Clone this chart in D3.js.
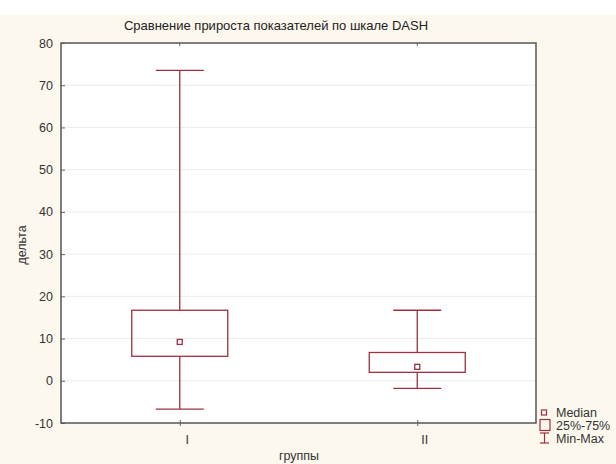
<!DOCTYPE html>
<html>
<head>
<meta charset="utf-8">
<script src="https://cdn.jsdelivr.net/npm/d3@7"></script>
<style>
  body { margin: 0; background: #fcf8ee; }
  svg { display: block; font-family: "Liberation Sans", Arial, sans-serif; }
</style>
</head>
<body>
<svg id="chart"></svg>
<script>
// Data
const groups = ["I", "II"];
const mins = [-6.7, -1.8];
const q1 = [5.8, 2.0];
const medians = [9.2, 3.3];
const q3 = [16.7, 6.7];
const maxs = [73.5, 16.7];
const yTicks = [-10, 0, 10, 20, 30, 40, 50, 60, 70, 80];

const width = 616, height = 464;
const margin = {top: 43, bottom: 41, left: 61, right: 80};
const color = "#9e3140";

const svg = d3.select("#chart")
  .attr("width", width)
  .attr("height", height);

// white strip at the very top
svg.append("rect")
  .attr("x", 0).attr("y", 0)
  .attr("width", width).attr("height", 15)
  .attr("fill", "#ffffff");

const xScale = d3.scalePoint()
  .domain(groups)
  .range([margin.left, width - margin.right])
  .padding(0.5);

const yScale = d3.scaleLinear()
  .domain([-10, 80])
  .range([height - margin.bottom, margin.top]);

// Plot area
svg.append("rect")
  .attr("x", margin.left).attr("y", margin.top)
  .attr("width", width - margin.left - margin.right)
  .attr("height", height - margin.top - margin.bottom)
  .attr("fill", "#ffffff");

// Gridlines
svg.append("g")
  .selectAll("line")
  .data(yTicks.slice(1, -1))
  .enter()
  .append("line")
  .attr("x1", margin.left).attr("x2", width - margin.right)
  .attr("y1", (d) => yScale(d)).attr("y2", (d) => yScale(d))
  .attr("stroke", "#ececec");

// Y axis
const yAxis = svg.append("g")
  .attr("transform", `translate(${margin.left},0)`)
  .call(d3.axisLeft(yScale).tickValues(yTicks).tickFormat((d) => String(d)).tickSize(-4).tickPadding(8));
yAxis.select(".domain").remove();
yAxis.selectAll(".tick line").attr("stroke", "#666");
yAxis.selectAll("text").attr("font-size", 12.5).attr("fill", "#333").attr("font-family", "Liberation Sans, Arial, sans-serif");

// X axis
const xAxis = svg.append("g")
  .attr("transform", `translate(0,${height - margin.bottom})`)
  .call(d3.axisBottom(xScale).tickSize(3).tickPadding(9));
xAxis.select(".domain").remove();
xAxis.selectAll(".tick line").attr("y1", -3).attr("stroke", "#666");
xAxis.selectAll("text").attr("font-size", 12.5).attr("fill", "#333").attr("dx", 7).attr("font-family", "Liberation Sans, Arial, sans-serif");

// top ticks
svg.append("g")
  .selectAll("line")
  .data(groups)
  .enter()
  .append("line")
  .attr("x1", (d) => xScale(d)).attr("x2", (d) => xScale(d))
  .attr("y1", margin.top).attr("y2", margin.top + 3)
  .attr("stroke", "#666");

// Frame
svg.append("rect")
  .attr("x", margin.left).attr("y", margin.top)
  .attr("width", width - margin.left - margin.right)
  .attr("height", height - margin.top - margin.bottom)
  .attr("fill", "none")
  .attr("stroke", "#555")
  .attr("stroke-width", 1.5);

// Boxes
const capW = 24, boxW = 48;
const box = svg.append("g")
  .selectAll("g")
  .data(groups)
  .enter()
  .append("g")
  .attr("stroke", color)
  .attr("stroke-width", 1.3)
  .attr("fill", "none");

box.append("line")
  .attr("x1", (d) => xScale(d)).attr("x2", (d) => xScale(d))
  .attr("y1", (d, i) => yScale(maxs[i])).attr("y2", (d, i) => yScale(q3[i]));
box.append("line")
  .attr("x1", (d) => xScale(d)).attr("x2", (d) => xScale(d))
  .attr("y1", (d, i) => yScale(q1[i])).attr("y2", (d, i) => yScale(mins[i]));
box.append("line")
  .attr("x1", (d) => xScale(d) - capW).attr("x2", (d) => xScale(d) + capW)
  .attr("y1", (d, i) => yScale(maxs[i])).attr("y2", (d, i) => yScale(maxs[i]));
box.append("line")
  .attr("x1", (d) => xScale(d) - capW).attr("x2", (d) => xScale(d) + capW)
  .attr("y1", (d, i) => yScale(mins[i])).attr("y2", (d, i) => yScale(mins[i]));
box.append("rect")
  .attr("x", (d) => xScale(d) - boxW)
  .attr("y", (d, i) => yScale(q3[i]))
  .attr("width", boxW * 2)
  .attr("height", (d, i) => yScale(q1[i]) - yScale(q3[i]));
box.append("rect")
  .attr("x", (d) => xScale(d) - 2.5)
  .attr("y", (d, i) => yScale(medians[i]) - 2.5)
  .attr("width", 5).attr("height", 5);

// Title and axis labels
svg.append("text")
  .attr("x", 276).attr("y", 30)
  .attr("text-anchor", "middle")
  .attr("font-size", 13)
  .attr("fill", "#222")
  .text("Сравнение прироста показателей по шкале DASH");

svg.append("text")
  .attr("transform", "translate(26,245) rotate(-90)")
  .attr("text-anchor", "middle")
  .attr("font-size", 12.5)
  .attr("fill", "#333")
  .text("дельта");

svg.append("text")
  .attr("x", 299).attr("y", 460)
  .attr("text-anchor", "middle")
  .attr("font-size", 12.5)
  .attr("fill", "#333")
  .text("группы");

// Legend
const legend = svg.append("g").attr("font-size", 12.5).attr("fill", "#333");
legend.append("rect").attr("x", 541.5).attr("y", 410).attr("width", 5).attr("height", 5)
  .attr("fill", "none").attr("stroke", color).attr("stroke-width", 1.2);
legend.append("text").attr("x", 556).attr("y", 417).text("Median");
legend.append("rect").attr("x", 540).attr("y", 419.5).attr("width", 10).attr("height", 11)
  .attr("fill", "none").attr("stroke", color).attr("stroke-width", 1.2);
legend.append("text").attr("x", 556).attr("y", 430).text("25%-75%");
const mm = legend.append("g").attr("stroke", color).attr("stroke-width", 1.2);
mm.append("line").attr("x1", 540).attr("x2", 549).attr("y1", 433).attr("y2", 433);
mm.append("line").attr("x1", 544.5).attr("x2", 544.5).attr("y1", 433).attr("y2", 443);
mm.append("line").attr("x1", 540).attr("x2", 549).attr("y1", 443).attr("y2", 443);
legend.append("text").attr("x", 556).attr("y", 443).text("Min-Max");
</script>
</body>
</html>
